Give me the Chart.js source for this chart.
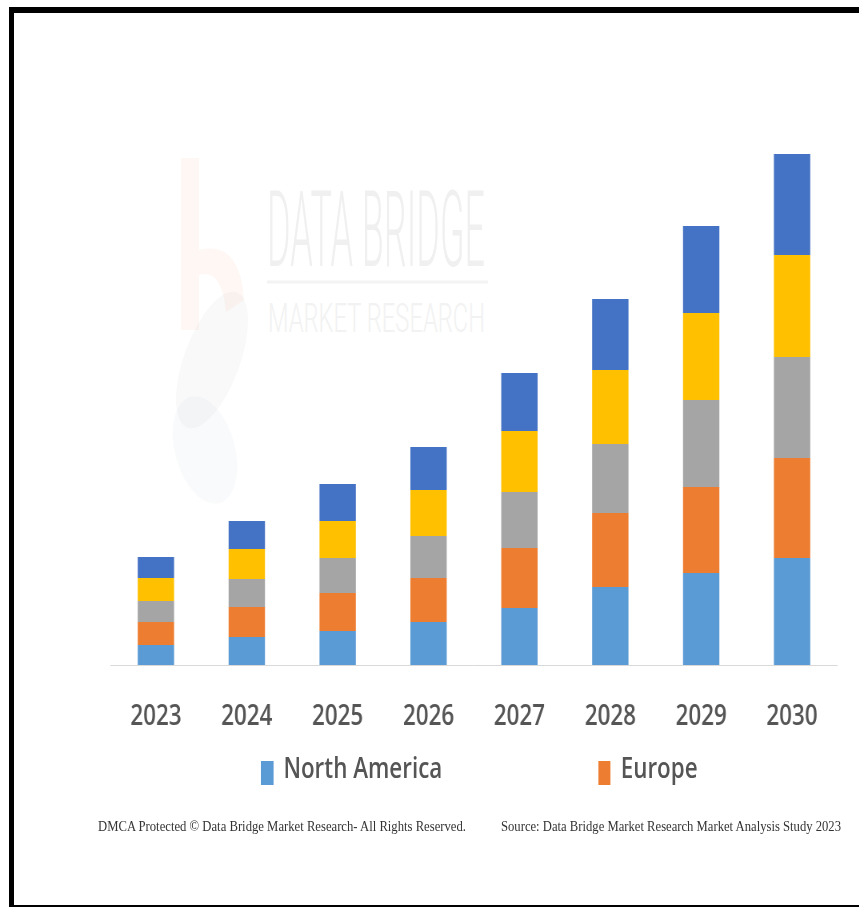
<!DOCTYPE html>
<html>
<head>
<meta charset="utf-8">
<title>Market by Region 2023-2030</title>
<script src="https://cdn.jsdelivr.net/npm/chart.js"></script>
<style>
  body { margin: 0; background: #fff; width: 859px; height: 909px; overflow: hidden; position: relative; }
  .frame { position: absolute; left: 9px; top: 7px; width: 870px; height: 900px; box-sizing: border-box;
           border-left: 5px solid #000; border-top: 6px solid #000; border-bottom: 2px solid #000; }
  .overlay { position: absolute; left: 0; top: 0; }
  /* the chart is laid out wide and squeezed horizontally */
  .stage { position: absolute; left: 0; top: 0; width: 1074px; height: 909px; transform: scaleX(0.8); transform-origin: 0 0; }
  #chart { position: absolute; left: 0; top: 0; }
  #legend { position: absolute; left: 326px; top: 753px; display: grid; grid-template-columns: 421.6px auto;
            font: 600 28px 'Open Sans'; line-height: 28px; color: #555; }
  .item { display: flex; align-items: flex-start; white-space: nowrap; }
  .swatch { width: 15.75px; height: 24px; margin-top: 8px; margin-right: 12.5px; }
</style>
</head>
<body>
  <!-- watermark -->
  <svg class="overlay" width="859" height="909">
    <path d="M181 158 L199 158 L199 250 Q240 240 244 300 L226 312 Q222 268 199 275 L199 330 L181 330 Z" fill="rgba(237,125,49,0.06)"/>
    <ellipse cx="212" cy="360" rx="28" ry="72" transform="rotate(20 212 360)" fill="rgba(90,110,140,0.04)"/>
    <ellipse cx="205" cy="450" rx="30" ry="55" transform="rotate(-15 205 450)" fill="rgba(90,110,140,0.035)"/>
    <text x="267" y="266" font-family="Roboto" font-weight="300" font-size="105" textLength="218"
          lengthAdjust="spacingAndGlyphs" fill="#f0f0f0">DATA BRIDGE</text>
    <line x1="267" y1="282" x2="488" y2="282" stroke="#f3f3f3" stroke-width="3"/>
    <text x="268" y="332" font-family="Roboto" font-weight="300" font-size="40" textLength="217"
          lengthAdjust="spacingAndGlyphs" fill="#f2f2f2">MARKET RESEARCH</text>
  </svg>

  <div class="stage">
    <canvas id="chart" width="1074" height="770" style="width:1074px;height:770px"></canvas>
    <div id="legend"></div>
  </div>

  <svg class="overlay" width="859" height="909">
    <text x="98" y="831" font-family="Liberation Serif" font-size="14" textLength="368"
          lengthAdjust="spacingAndGlyphs" fill="#333">DMCA Protected © Data Bridge Market Research- All Rights Reserved.</text>
    <text x="501" y="831" font-family="Liberation Serif" font-size="14" textLength="340"
          lengthAdjust="spacingAndGlyphs" fill="#333">Source: Data Bridge Market Research Market Analysis Study 2023</text>
  </svg>

  <div class="frame"></div>

<script>
  var years = ['2023', '2024', '2025', '2026', '2027', '2028', '2029', '2030'];

  // stacked from the bottom up
  var northAmerica = [20, 28, 34, 43, 57, 78, 92, 107];
  var europe = [23, 30, 38, 44, 60, 74, 86, 100];
  var asiaPacific = [21, 28, 35, 42, 56, 69, 87, 101];
  var middleEastAfrica = [23, 30, 37, 46, 61, 74, 87, 102];
  var southAmerica = [21, 28, 37, 43, 58, 71, 87, 101];

  var seriesNames = ['North America', 'Europe', 'Asia-Pacific', 'Middle East and Africa', 'South America'];
  var seriesColors = ['#5B9BD5', '#ED7D31', '#A5A5A5', '#FFC000', '#4472C4'];
  var seriesValues = [northAmerica, europe, asiaPacific, middleEastAfrica, southAmerica];

  // only the first legend row is shown
  var legendShown = ['North America', 'Europe'];

  var htmlLegend = {
    id: 'htmlLegend',
    afterUpdate: function (chart) {
      var box = document.getElementById('legend');
      box.innerHTML = '';
      var items = chart.options.plugins.legend.labels.generateLabels(chart);
      items.forEach(function (item) {
        if (legendShown.indexOf(item.text) < 0) return;
        var el = document.createElement('div');
        el.className = 'item';
        var sw = document.createElement('span');
        sw.className = 'swatch';
        sw.style.background = item.fillStyle;
        var label = document.createElement('span');
        label.textContent = item.text;
        el.appendChild(sw);
        el.appendChild(label);
        box.appendChild(el);
      });
    }
  };

  var datasets = seriesNames.map(function (name, i) {
    return {
      label: name,
      data: seriesValues[i],
      backgroundColor: seriesColors[i],
      borderWidth: 0,
      categoryPercentage: 1,
      barPercentage: 0.4
    };
  });

  var ctx = document.getElementById('chart').getContext('2d');
  new Chart(ctx, {
    type: 'bar',
    data: { labels: years, datasets: datasets },
    plugins: [htmlLegend],
    options: {
      responsive: false,
      animation: false,
      devicePixelRatio: 1,
      layout: { padding: { top: 65, left: 138.1, right: 27.1, bottom: 1.4 } },
      plugins: {
        legend: { display: false },
        tooltip: { enabled: false }
      },
      scales: {
        x: {
          stacked: true,
          grid: { display: false, drawTicks: false },
          border: { display: true, color: '#d9d9d9', width: 1 },
          ticks: {
            padding: 35,
            color: '#555',
            font: { family: 'Open Sans', size: 28, weight: '600' }
          }
        },
        y: {
          stacked: true,
          display: false,
          min: 0,
          max: 600
        }
      }
    }
  });
</script>
</body>
</html>
